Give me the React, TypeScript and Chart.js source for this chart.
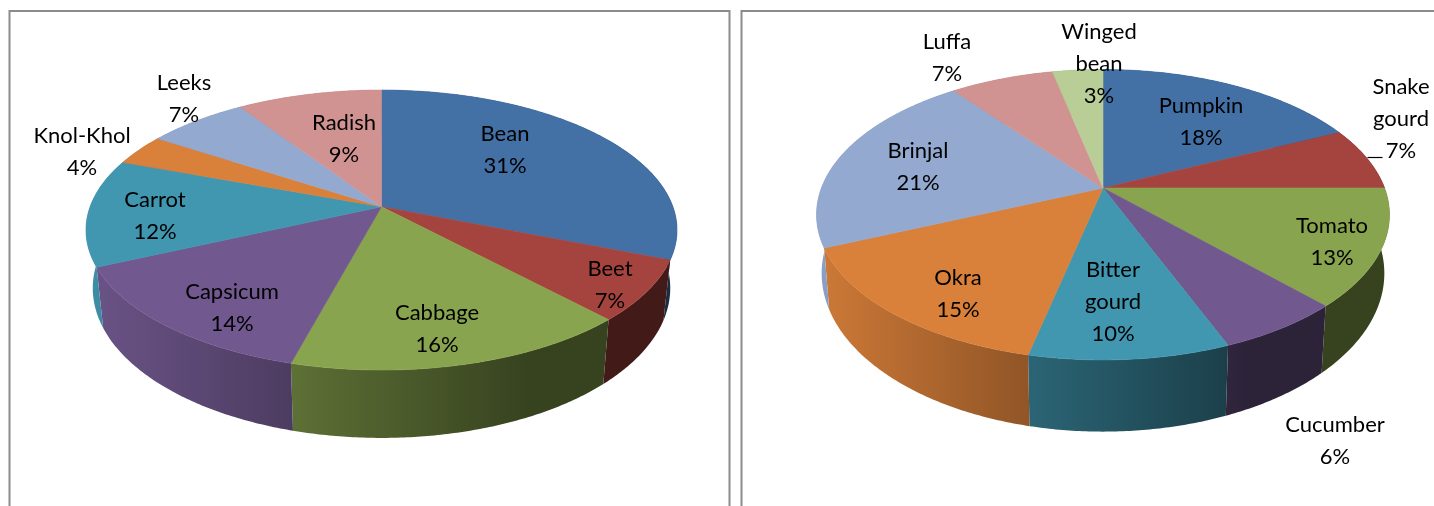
import React, { useEffect, useRef } from "react";
import { Chart, registerables } from "chart.js";

Chart.register(...registerables);

const leftCategories = ["Bean", "Beet", "Cabbage", "Capsicum", "Carrot", "Knol-Khol", "Leeks", "Radish"];
const leftValues = [31, 7, 16.2, 14, 12.4, 3.6, 6.5, 9.3];
const leftColors = ["#4371a6", "#a5433f", "#89a44e", "#71588f", "#4197b0", "#d9803a", "#93a9cf", "#d19392"];
const leftLabelCenters = [
  [505, 150], [610, 285], [437, 329], [232, 308], [155, 216], [82, 152], [184, 99], [344, 139],
];

const rightCategories = ["Pumpkin", "Snake gourd", "Tomato", "Cucumber", "Bitter gourd", "Okra", "Brinjal", "Luffa", "Winged bean"];
const rightValues = [18, 7, 13, 6, 9.5, 15, 21.1, 7, 3.4];
const rightColors = ["#4371a6", "#a5433f", "#89a44e", "#71588f", "#4197b0", "#d9803a", "#93a9cf", "#d19392", "#b9cd96"];
const rightLabelCenters = [
  [1201, 122], [1401, 119], [1332, 242], [1335, 441], [1113, 302], [958, 294], [918, 167], [947, 58], [1099, 64],
];

const leftGeometry = {
  originX: 0, width: 735,
  cx: 381.5, cy: 206.7, R: 291.4, Rs: 136.1, k: 1 / 6,
  bottomScale: 0.977, depthSlope: 1.07, depthShift: 42,
  frame: [9.5, 11, 729.5],
};
const rightGeometry = {
  originX: 735, width: 699,
  cx: 1103, cy: 188, R: 281.6, Rs: 140.3, k: 0.184,
  bottomScale: 0.982, depthSlope: 1.09, depthShift: 39.3,
  frame: [741.5, 11, 1445],
};

const FONT = "22px Lato";
const LINE_HEIGHT = 32;

function shade(hex: string, f: number) {
  const n = parseInt(hex.slice(1), 16);
  const r = Math.round(((n >> 16) & 255) * f);
  const g = Math.round(((n >> 8) & 255) * f);
  const b = Math.round((n & 255) * f);
  return `rgb(${r},${g},${b})`;
}

function project(g: any, angle: number) {
  const u = Math.cos(angle);
  const v = Math.sin(angle);
  const d = 1 - g.k * v;
  return { x: g.cx + (g.R * u) / d, y: g.cy + (g.Rs * v) / d };
}

function lower(g: any, p: { x: number; y: number }) {
  return { x: g.cx + (p.x - g.cx) * g.bottomScale, y: p.y * g.depthSlope + g.depthShift };
}

function rim(g: any, start: number, end: number) {
  const steps = Math.max(2, Math.ceil((end - start) / 0.01));
  const pts = [];
  for (let i = 0; i <= steps; i++) pts.push(project(g, start + ((end - start) * i) / steps));
  return pts;
}

function makePlugin(g: any, centers: number[][], colors: string[], categories: string[], values: number[]) {
  return {
    id: "perspectivePie",
    beforeDatasetsDraw(chart: any) {
      const ctx = chart.ctx;
      const arcs = chart.getDatasetMeta(0).data;
      ctx.save();
      ctx.translate(-g.originX, 0);

      // frame
      ctx.strokeStyle = "#8c8c8c";
      ctx.lineWidth = 2;
      ctx.beginPath();
      ctx.moveTo(g.frame[0], 520);
      ctx.lineTo(g.frame[0], g.frame[1]);
      ctx.lineTo(g.frame[2], g.frame[1]);
      ctx.lineTo(g.frame[2], 520);
      ctx.stroke();

      // side walls
      const halfW = g.R * 1.02;
      arcs.forEach((arc: any, i: number) => {
        const pts = rim(g, arc.startAngle, arc.endAngle);
        const low = pts.map((p) => lower(g, p)).reverse();
        const grad = ctx.createLinearGradient(g.cx - halfW, 0, g.cx + halfW, 0);
        grad.addColorStop(0, shade(colors[i], 0.95));
        grad.addColorStop(0.35, shade(colors[i], 0.68));
        grad.addColorStop(0.75, shade(colors[i], 0.4));
        grad.addColorStop(1, shade(colors[i], 0.4));
        ctx.fillStyle = grad;
        ctx.beginPath();
        pts.concat(low).forEach((p, j) => (j ? ctx.lineTo(p.x, p.y) : ctx.moveTo(p.x, p.y)));
        ctx.closePath();
        ctx.fill();
      });

      // top face
      arcs.forEach((arc: any, i: number) => {
        const pts = rim(g, arc.startAngle, arc.endAngle);
        ctx.fillStyle = colors[i];
        ctx.strokeStyle = colors[i];
        ctx.lineWidth = 0.6;
        ctx.beginPath();
        ctx.moveTo(g.cx, g.cy);
        pts.forEach((p) => ctx.lineTo(p.x, p.y));
        ctx.closePath();
        ctx.fill();
        ctx.stroke();
      });

      // labels
      ctx.fillStyle = "#000";
      ctx.font = FONT;
      ctx.textAlign = "center";
      ctx.textBaseline = "middle";
      categories.forEach((cat, i) => {
        const lines = [...cat.split(" "), `${Math.round(values[i])}%`];
        const [x, y] = centers[i];
        lines.forEach((line, j) => {
          ctx.fillText(line, x, y + (j - (lines.length - 1) / 2) * LINE_HEIGHT);
        });
      });

      // leader line of Snake gourd
      if (g.originX > 0) {
        ctx.strokeStyle = "#000";
        ctx.lineWidth = 1.2;
        ctx.beginPath();
        ctx.moveTo(1367.5, 157.5);
        ctx.lineTo(1382.5, 157.5);
        ctx.stroke();
      }
      ctx.restore();
      return false;
    },
  };
}

function PiePanel({ geometry, categories, values, colors, centers }: any) {
  const ref = useRef<HTMLCanvasElement>(null);
  useEffect(() => {
    const chart = new Chart(ref.current as HTMLCanvasElement, {
      type: "pie",
      data: { labels: categories, datasets: [{ data: values, backgroundColor: colors, borderWidth: 0 }] },
      options: {
        animation: false,
        responsive: false,
        plugins: { legend: { display: false }, tooltip: { enabled: false } },
      },
      plugins: [makePlugin(geometry, centers, colors, categories, values)],
    } as any);
    return () => chart.destroy();
  }, []);
  return (
    <canvas
      ref={ref}
      width={geometry.width}
      height={506}
      style={{ position: "absolute", left: geometry.originX, top: 0, width: geometry.width, height: 506, filter: "blur(0.4px)" }}
    />
  );
}

export default function App() {
  useEffect(() => {
    document.body.style.margin = "0";
    document.body.style.background = "#fff";
    document.body.style.overflow = "hidden";
  }, []);
  return (
    <div style={{ position: "relative", width: 1434, height: 506, overflow: "hidden", background: "#fff" }}>
      <PiePanel geometry={leftGeometry} categories={leftCategories} values={leftValues} colors={leftColors} centers={leftLabelCenters} />
      <PiePanel geometry={rightGeometry} categories={rightCategories} values={rightValues} colors={rightColors} centers={rightLabelCenters} />
    </div>
  );
}
